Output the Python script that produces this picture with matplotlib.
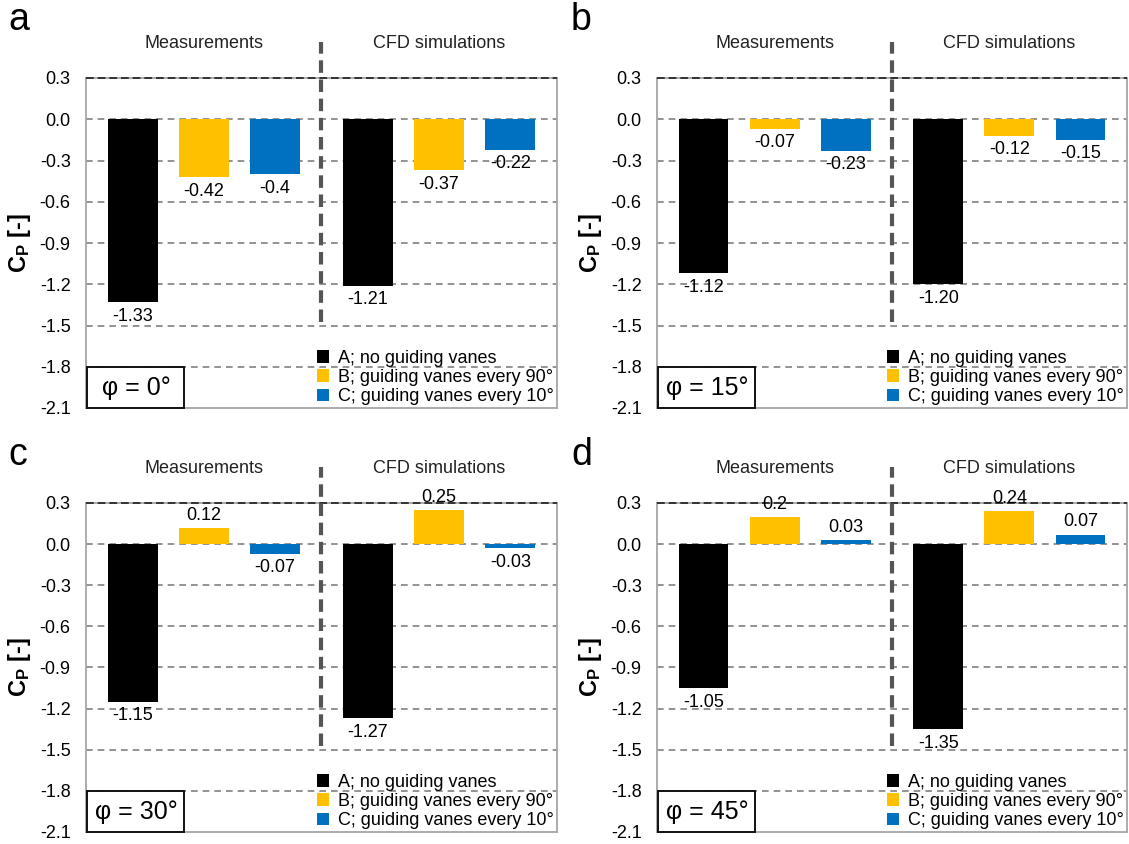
import matplotlib
matplotlib.use("Agg")
import matplotlib.pyplot as plt
from matplotlib.patches import Rectangle, Patch
from matplotlib.transforms import blended_transform_factory

plt.rcParams['font.family'] = ['Liberation Sans', 'DejaVu Sans']
plt.rcParams['mathtext.fontset'] = 'custom'
plt.rcParams['mathtext.rm'] = 'Liberation Sans'
plt.rcParams['mathtext.bf'] = 'Liberation Sans:bold'
plt.rcParams['mathtext.it'] = 'Liberation Sans:italic'

# ---------------- data ----------------
panels = ['a', 'b', 'c', 'd']
angles = ['φ = 0°', 'φ = 15°', 'φ = 30°', 'φ = 45°']
series = ['A; no guiding vanes', 'B; guiding vanes every 90°', 'C; guiding vanes every 10°']
groups = ['Measurements', 'CFD simulations']

# order in each panel: meas A, meas B, meas C, CFD A, CFD B, CFD C
vals_a = [-1.33, -0.42, -0.40, -1.21, -0.37, -0.22]
vals_b = [-1.12, -0.07, -0.23, -1.20, -0.12, -0.15]
vals_c = [-1.15, 0.12, -0.07, -1.27, 0.25, -0.03]
vals_d = [-1.05, 0.20, 0.03, -1.35, 0.24, 0.07]

labels_a = ['-1.33', '-0.42', '-0.4', '-1.21', '-0.37', '-0.22']
labels_b = ['-1.12', '-0.07', '-0.23', '-1.20', '-0.12', '-0.15']
labels_c = ['-1.15', '0.12', '-0.07', '-1.27', '0.25', '-0.03']
labels_d = ['-1.05', '0.2', '0.03', '-1.35', '0.24', '0.07']

yticks = [0.3, 0.0, -0.3, -0.6, -0.9, -1.2, -1.5, -1.8, -2.1]
ytick_labels = ['0.3', '0.0', '-0.3', '-0.6', '-0.9', '-1.2', '-1.5', '-1.8', '-2.1']

all_vals = [vals_a, vals_b, vals_c, vals_d]
all_labels = [labels_a, labels_b, labels_c, labels_d]

colors = ['#000000', '#FFC000', '#0070C0']

# ---------------- layout ----------------
W, H = 1129, 844
fig = plt.figure(figsize=(W / 100, H / 100), dpi=100)

ax_px = {  # left, top, right, bottom in pixels
    'a': (86, 78, 557, 408),
    'b': (657, 78, 1127, 408),
    'c': (86, 503, 557, 832),
    'd': (657, 503, 1127, 832),
}
letter_px = {'a': (8, 20), 'b': (571, 20), 'c': (8, 455), 'd': (571, 455)}

xpos = [0, 1, 2, 3.3, 4.3, 5.3]
divider_x = 2.648
group_centers = [1, 4.3]

for p, ang, vals, labs in zip(panels, angles, all_vals, all_labels):
    l, t, r, b = ax_px[p]
    ax = fig.add_axes([l / W, 1 - b / H, (r - l) / W, (b - t) / H])
    ax.set_xlim(-0.654, 5.954)
    ax.set_ylim(-2.1, 0.3)
    ax.set_yticks(yticks)
    ax.set_yticklabels(ytick_labels)
    ax.set_xticks([])
    ax.tick_params(axis='y', length=0, pad=11, labelsize=13, labelcolor='#000000')
    for s in ax.spines.values():
        s.set_color('#a6a6a6')
        s.set_linewidth(1.3)
    # gridlines
    for yv in yticks[1:-1]:
        ax.axhline(yv, color='#808080', lw=1.2, ls=(0, (4, 3)), zorder=1)
    ax.axhline(0.3, color='#333333', lw=1.4, ls=(0, (4, 2)), zorder=3, clip_on=False)

    cols = colors + colors
    ax.bar(xpos, vals, width=0.70, color=cols, zorder=2)
    for x, v, lab in zip(xpos, vals, labs):
        if v < 0:
            ax.annotate(lab, (x, v), xytext=(0, -4), textcoords='offset points',
                        ha='center', va='top', fontsize=13)
        else:
            ax.annotate(lab, (x, v), xytext=(0, 3), textcoords='offset points',
                        ha='center', va='bottom', fontsize=13)

    tr = blended_transform_factory(ax.transData, ax.transAxes)
    ax.plot([divider_x, divider_x], [0.26, 1.11], transform=tr, color='#555555',
            lw=3, ls=(0, (3, 1.6)), clip_on=False, zorder=4)
    for gx, gname in zip(group_centers, groups):
        ax.text(gx, 1.106, gname, transform=tr, ha='center', va='center', fontsize=13,
                color='#222222')

    ax.set_ylabel(r'$\mathbf{C_P}$ [-]', fontsize=17, fontweight='bold')
    ax.yaxis.set_label_coords(-0.112, 0.5)

    # angle box
    ax.add_patch(Rectangle((0.003, 0.0), 0.206, 0.124, transform=ax.transAxes,
                           facecolor='white', edgecolor='#111111', lw=1.4, zorder=5,
                           clip_on=False))
    ax.text(0.106, 0.062, ang, transform=ax.transAxes, ha='center', va='center',
            fontsize=18, zorder=6)

    handles = [Patch(facecolor=c, edgecolor='none') for c in colors]
    leg = ax.legend(handles, series, loc='lower right', frameon=False, fontsize=13,
                    handlelength=0.7, handleheight=0.7, handletextpad=0.5,
                    labelspacing=0.12, borderaxespad=0.1, borderpad=0.05)
    leg.set_zorder(6)

    lx, ly = letter_px[p]
    fig.text(lx / W, 1 - ly / H, p, ha='left', va='center', fontsize=27)

fig.savefig('out.png', dpi=100)
